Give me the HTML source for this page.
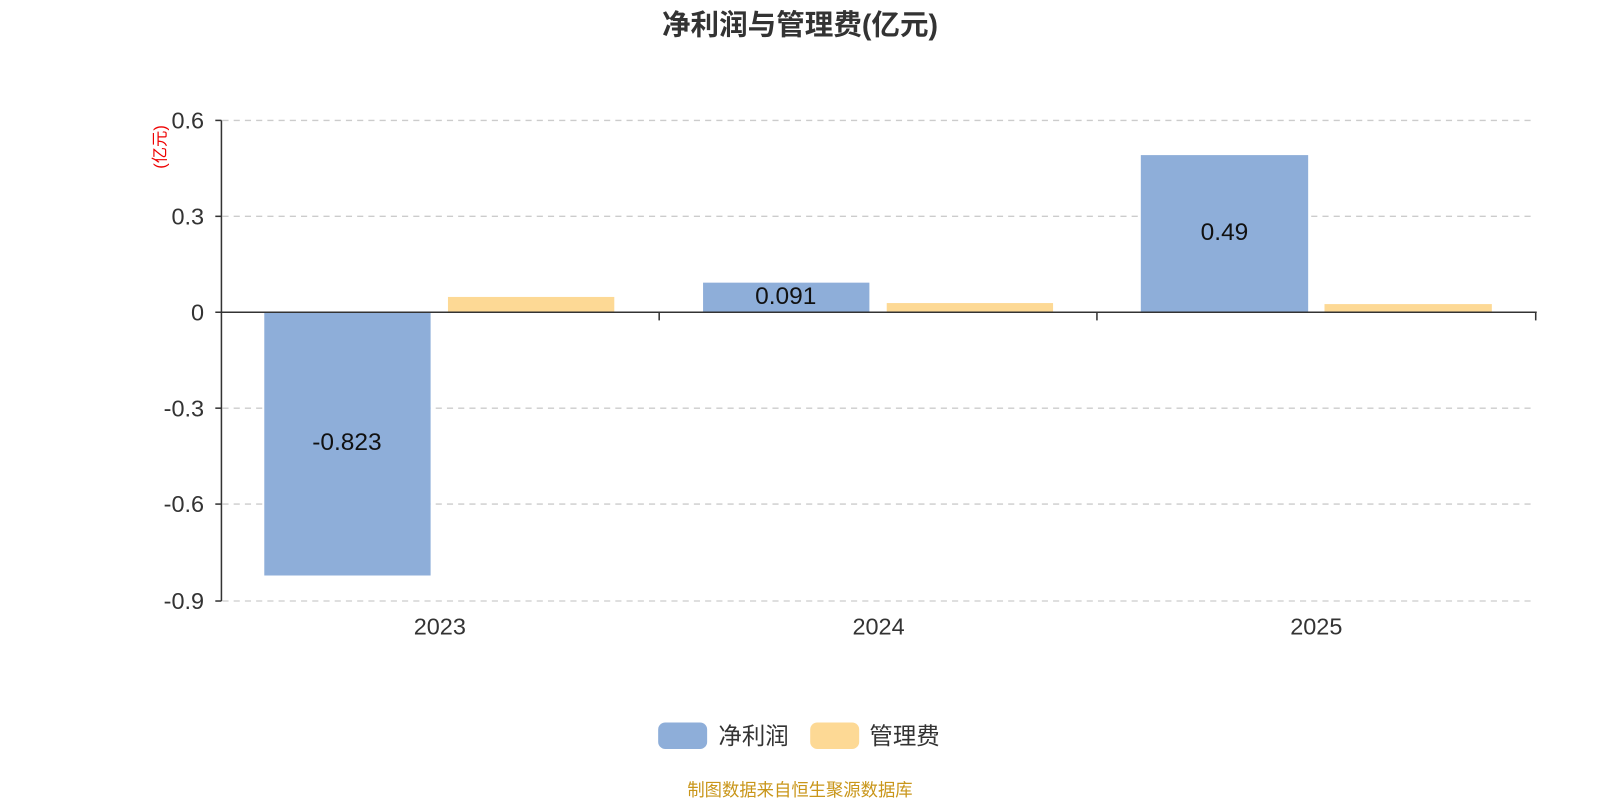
<!DOCTYPE html>
<html><head><meta charset="utf-8"><style>
body{margin:0;background:#fff;}
svg{display:block;}
svg text{font-family:"Liberation Sans","Noto Sans CJK SC",sans-serif;}
</style></head><body>
<svg width="1600" height="800" viewBox="0 0 1568 784" xmlns="http://www.w3.org/2000/svg">
<text x="784" y="34" text-anchor="middle" font-size="28" font-weight="bold" fill="#333">净利润与管理费(亿元)</text>
<g stroke="#ccc" stroke-width="1.3" stroke-dasharray="6,5">
<line x1="218" y1="118" x2="1505" y2="118"/>
<line x1="218" y1="212" x2="1505" y2="212"/>
<line x1="218" y1="400" x2="1505" y2="400"/>
<line x1="218" y1="494" x2="1505" y2="494"/>
<line x1="218" y1="589" x2="1505" y2="589"/>
</g>
<g fill="#8eaed9">
<rect x="259" y="306" width="163" height="258"/>
<rect x="689" y="277" width="163" height="29"/>
<rect x="1118" y="152" width="164" height="154"/>
</g>
<g fill="#fdd995">
<rect x="439" y="291" width="163" height="15"/>
<rect x="869" y="297" width="163" height="9"/>
<rect x="1298" y="298" width="164" height="8"/>
</g>
<g stroke="#333" stroke-width="1.5">
<line x1="217" y1="118" x2="217" y2="589"/>
<line x1="217" y1="306" x2="1506" y2="306"/>
<line x1="211" y1="118" x2="217" y2="118"/>
<line x1="211" y1="212" x2="217" y2="212"/>
<line x1="211" y1="306" x2="217" y2="306"/>
<line x1="211" y1="400" x2="217" y2="400"/>
<line x1="211" y1="494" x2="217" y2="494"/>
<line x1="211" y1="589" x2="217" y2="589"/>
<line x1="646" y1="306" x2="646" y2="314"/>
<line x1="1075" y1="306" x2="1075" y2="314"/>
<line x1="1505" y1="306" x2="1505" y2="314"/>
</g>
<g font-size="23" fill="#333" text-anchor="end">
<text x="200" y="126">0.6</text>
<text x="200" y="220">0.3</text>
<text x="200" y="314">0</text>
<text x="200" y="408">-0.3</text>
<text x="200" y="502">-0.6</text>
<text x="200" y="597">-0.9</text>
</g>
<text transform="translate(162,144) rotate(-90)" text-anchor="middle" font-size="16" fill="#e00">(亿元)</text>
<g font-size="23" fill="#333" text-anchor="middle">
<text x="431" y="622">2023</text>
<text x="861" y="622">2024</text>
<text x="1290" y="622">2025</text>
</g>
<g font-size="24" fill="#111" text-anchor="middle">
<text x="340" y="441">-0.823</text>
<text x="770" y="298">0.091</text>
<text x="1200" y="235">0.49</text>
</g>
<rect x="645" y="708" width="48" height="26" rx="7" fill="#8eaed9"/>
<text x="704" y="729" font-size="23" fill="#333">净利润</text>
<rect x="794" y="708" width="48" height="26" rx="7" fill="#fdd995"/>
<text x="852" y="729" font-size="23" fill="#333">管理费</text>
<text x="784" y="780" text-anchor="middle" font-size="17" fill="#c9961a">制图数据来自恒生聚源数据库</text>
</svg>
</body></html>
